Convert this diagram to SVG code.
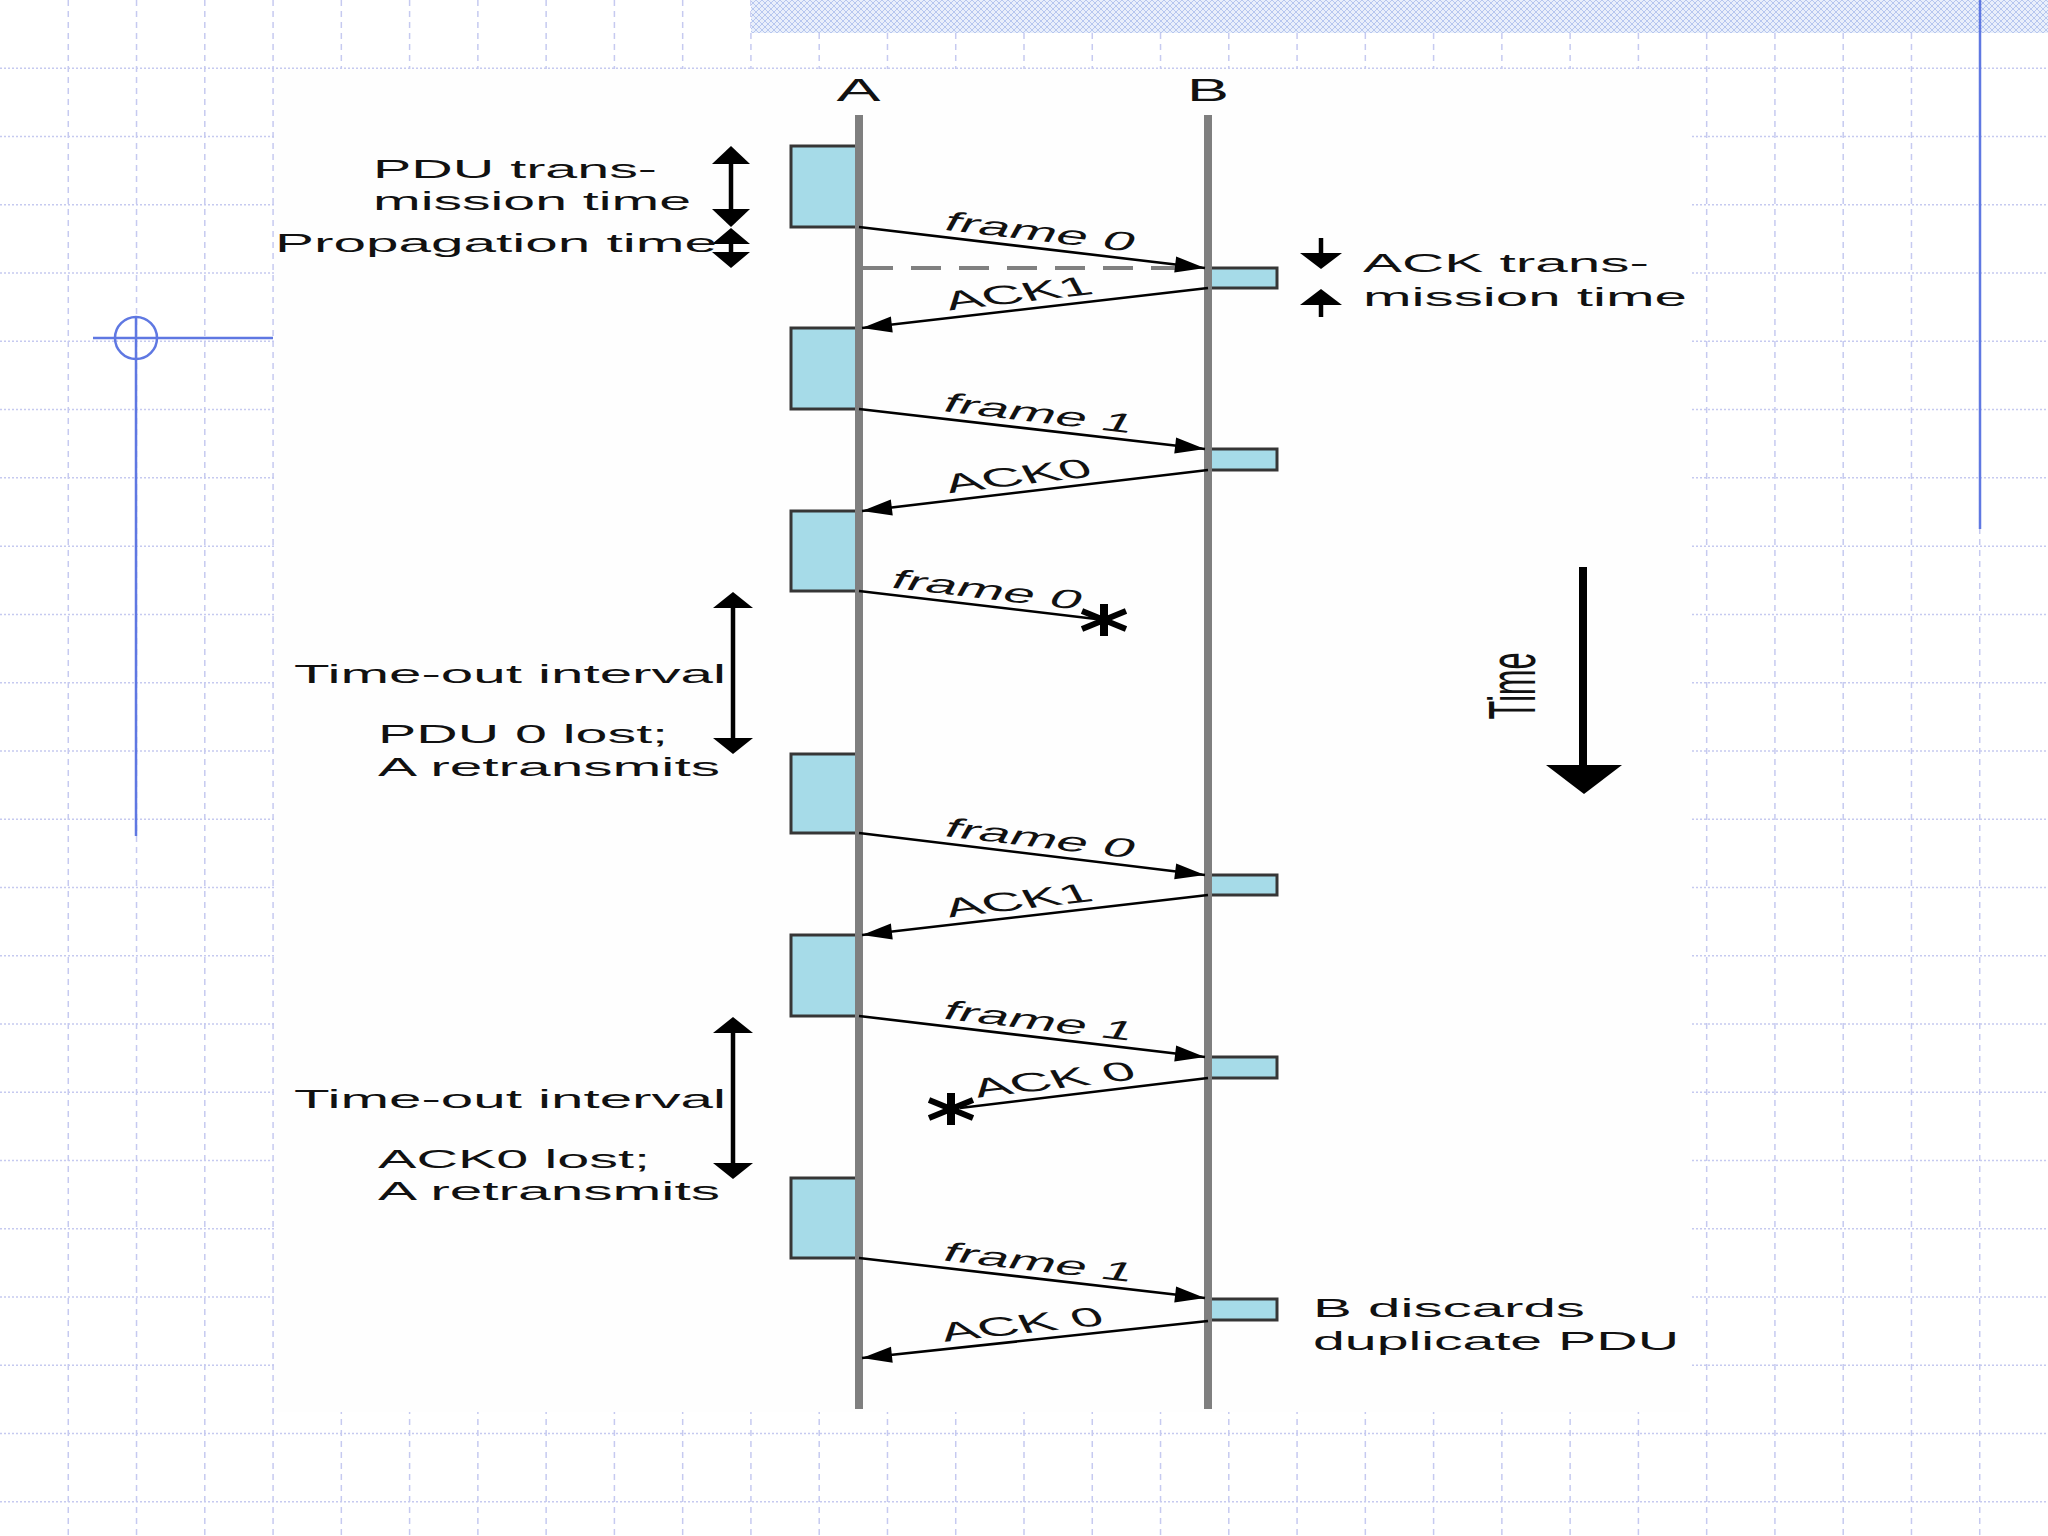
<svg xmlns="http://www.w3.org/2000/svg" width="2048" height="1536" viewBox="0 0 2048 1536">
<defs>
<style>
.gv{stroke:#c6caf0;stroke-width:1.5;stroke-dasharray:6 5;fill:none}
.gh{stroke:#c6caf0;stroke-width:1.5;stroke-dasharray:2 2;fill:none}
.orn{stroke:#5f78e2;stroke-width:2.5;fill:none}
.life{stroke:#7f7f7f;stroke-width:8}
.pdu{fill:#a6dbe8;stroke:#363636;stroke-width:3}
.ack{fill:#a6dbe8;stroke:#363636;stroke-width:3}
.msg{stroke:#000;stroke-width:2.6;fill:none}
.msga{stroke:#000;stroke-width:2.6;fill:none;marker-end:url(#ah)}
.dim{stroke:#000;stroke-width:4.5;fill:none}
.hd{fill:#000}
.t{font-family:"Liberation Sans",Arial,Helvetica,sans-serif;font-size:26.5px;fill:#111}
.tl{font-family:"Liberation Sans",Arial,Helvetica,sans-serif;font-size:31px;fill:#111}
.star{stroke:#000;fill:none}
</style>
<pattern id="mesh" x="0" y="0" width="6" height="6" patternUnits="userSpaceOnUse">
<rect width="6" height="6" fill="#e9effb"/>
<path d="M0,0 L6,6 M6,0 L0,6" stroke="#b7c7ef" stroke-width="1"/>
</pattern>
<marker id="ah" viewBox="-32 -10 34 20" refX="0" refY="0" markerWidth="34" markerHeight="20" markerUnits="userSpaceOnUse" orient="auto">
<path d="M0,0 L-30,-8 L-30,8 Z" fill="#000"/>
</marker>
</defs>

<g id="background">
<rect width="2048" height="1536" fill="#ffffff"/>
<path class="gv" d="M68.27,0V1536 M136.53,0V1536 M204.8,0V1536 M273.07,0V1536 M341.33,0V1536 M409.6,0V1536 M477.87,0V1536 M546.13,0V1536 M614.4,0V1536 M682.67,0V1536 M750.93,0V1536 M819.2,0V1536 M887.47,0V1536 M955.73,0V1536 M1024,0V1536 M1092.27,0V1536 M1160.53,0V1536 M1228.8,0V1536 M1297.07,0V1536 M1365.33,0V1536 M1433.6,0V1536 M1501.87,0V1536 M1570.13,0V1536 M1638.4,0V1536 M1706.67,0V1536 M1774.93,0V1536 M1843.2,0V1536 M1911.47,0V1536 M1979.73,0V1536"/>
<path class="gh" d="M0,68.27H2048 M0,136.53H2048 M0,204.8H2048 M0,273.07H2048 M0,341.33H2048 M0,409.6H2048 M0,477.87H2048 M0,546.13H2048 M0,614.4H2048 M0,682.67H2048 M0,750.93H2048 M0,819.2H2048 M0,887.47H2048 M0,955.73H2048 M0,1024H2048 M0,1092.27H2048 M0,1160.53H2048 M0,1228.8H2048 M0,1297.07H2048 M0,1365.33H2048 M0,1433.6H2048 M0,1501.87H2048"/>
<rect x="751" y="0" width="1297" height="33" fill="url(#mesh)"/>
<rect x="274" y="69" width="1416" height="1343" fill="#fefefe"/>
<line class="orn" x1="1980" y1="0" x2="1980" y2="529"/>
<line class="orn" x1="93" y1="338" x2="273" y2="338"/>
<circle class="orn" cx="136" cy="338" r="21"/>
<line class="orn" x1="136" y1="317" x2="136" y2="836"/>
</g>

<g id="pdus-A">
<rect id="pdu-a1" class="pdu" x="791" y="146" width="68" height="81"/>
<rect id="pdu-a2" class="pdu" x="791" y="328" width="68" height="81"/>
<rect id="pdu-a3" class="pdu" x="791" y="511" width="68" height="80"/>
<rect id="pdu-a4" class="pdu" x="791" y="754" width="68" height="79"/>
<rect id="pdu-a5" class="pdu" x="791" y="935" width="68" height="81"/>
<rect id="pdu-a6" class="pdu" x="791" y="1178" width="68" height="80"/>
</g>
<g id="acks-B">
<rect id="ack-b1" class="ack" x="1208" y="268" width="69" height="20"/>
<rect id="ack-b2" class="ack" x="1208" y="449" width="69" height="21"/>
<rect id="ack-b3" class="ack" x="1208" y="875" width="69" height="20"/>
<rect id="ack-b4" class="ack" x="1208" y="1057" width="69" height="21"/>
<rect id="ack-b5" class="ack" x="1208" y="1299" width="69" height="21"/>
</g>

<g id="lifeline-A">
<line class="life" x1="859" y1="115" x2="859" y2="1409"/>
<text class="tl" x="858.5" y="101" text-anchor="middle" textLength="44" lengthAdjust="spacingAndGlyphs">A</text>
</g>
<g id="lifeline-B">
<line class="life" x1="1208" y1="115" x2="1208" y2="1409"/>
<text class="tl" x="1208" y="101" text-anchor="middle" textLength="42" lengthAdjust="spacingAndGlyphs">B</text>
</g>

<g id="connectors">
<line x1="863" y1="268" x2="1192" y2="268" stroke="#808080" stroke-width="4" stroke-dasharray="30 18"/>
<line class="msga" x1="859" y1="227" x2="1205" y2="268"/>
<line class="msga" x1="1208" y1="288" x2="862" y2="328"/>
<line class="msga" x1="859" y1="409" x2="1205" y2="449"/>
<line class="msga" x1="1208" y1="470" x2="862" y2="511"/>
<line class="msg" x1="859" y1="591" x2="1096" y2="619"/>
<line class="msga" x1="859" y1="833" x2="1205" y2="875"/>
<line class="msga" x1="1208" y1="895" x2="862" y2="935"/>
<line class="msga" x1="859" y1="1016" x2="1205" y2="1057"/>
<line class="msg" x1="1208" y1="1078" x2="960" y2="1108"/>
<line class="msga" x1="859" y1="1258" x2="1205" y2="1298"/>
<line class="msga" x1="1208" y1="1321" x2="862" y2="1358"/>
</g>

<g id="message-labels" class="t">
<text transform="translate(1032,247.3) scale(2.17,1) rotate(14.3)" x="0" y="-7" text-anchor="middle">frame 0</text>
<text transform="translate(1026,308.9) scale(2.17,1) rotate(-14)" x="0" y="-7" text-anchor="middle">ACK1</text>
<text transform="translate(1031,428.7) scale(2.17,1) rotate(14.3)" x="0" y="-7" text-anchor="middle">frame 1</text>
<text transform="translate(1026,491.4) scale(2.17,1) rotate(-14.3)" x="0" y="-7" text-anchor="middle">ACK0</text>
<text transform="translate(979,605.2) scale(2.17,1) rotate(14.3)" x="0" y="-7" text-anchor="middle">frame 0</text>
<text transform="translate(1032,853.8) scale(2.17,1) rotate(14.5)" x="0" y="-7" text-anchor="middle">frame 0</text>
<text transform="translate(1026,915.9) scale(2.17,1) rotate(-14)" x="0" y="-7" text-anchor="middle">ACK1</text>
<text transform="translate(1031,1036.2) scale(2.17,1) rotate(14.3)" x="0" y="-7" text-anchor="middle">frame 1</text>
<text transform="translate(1062,1095.1) scale(2.17,1) rotate(-14.2)" x="0" y="-7" text-anchor="middle">ACK 0</text>
<text transform="translate(1031,1277.7) scale(2.17,1) rotate(14)" x="0" y="-7" text-anchor="middle">frame 1</text>
<text transform="translate(1029,1340) scale(2.17,1) rotate(-13)" x="0" y="-7" text-anchor="middle">ACK 0</text>
</g>

<g id="loss-1">
<line class="star" x1="1104" y1="604" x2="1104" y2="636" stroke-width="8"/>
<line class="star" x1="1082" y1="611" x2="1126" y2="629" stroke-width="6"/>
<line class="star" x1="1082" y1="629" x2="1126" y2="611" stroke-width="6"/>
</g>
<g id="loss-2">
<line class="star" x1="951" y1="1093" x2="951" y2="1125" stroke-width="8"/>
<line class="star" x1="929" y1="1100" x2="973" y2="1118" stroke-width="6"/>
<line class="star" x1="929" y1="1118" x2="973" y2="1100" stroke-width="6"/>
</g>

<g id="pdu-time-note">
<line class="dim" x1="731" y1="160" x2="731" y2="214"/>
<polygon class="hd" points="731,146 712,164 750,164"/>
<polygon class="hd" points="731,227 712,209 750,209"/>
<line class="dim" x1="731" y1="240" x2="731" y2="256"/>
<polygon class="hd" points="731,228 712,244 750,244"/>
<polygon class="hd" points="731,268 712,252 750,252"/>
<text class="t" x="373" y="178" textLength="284" lengthAdjust="spacingAndGlyphs">PDU trans-</text>
<text class="t" x="373" y="210" textLength="318" lengthAdjust="spacingAndGlyphs">mission time</text>
<text class="t" x="275" y="252" textLength="442" lengthAdjust="spacingAndGlyphs">Propagation time</text>
</g>

<g id="ack-time-note">
<line class="dim" x1="1321" y1="238" x2="1321" y2="256"/>
<polygon class="hd" points="1321,269 1300,253 1342,253"/>
<line class="dim" x1="1321" y1="302" x2="1321" y2="317"/>
<polygon class="hd" points="1321,289 1300,305 1342,305"/>
<text class="t" x="1363" y="272" textLength="286" lengthAdjust="spacingAndGlyphs">ACK trans-</text>
<text class="t" x="1363" y="306" textLength="324" lengthAdjust="spacingAndGlyphs">mission time</text>
</g>

<g id="timeout-1">
<line class="dim" x1="733" y1="604" x2="733" y2="742"/>
<polygon class="hd" points="733,592 713,608 753,608"/>
<polygon class="hd" points="733,754 713,738 753,738"/>
<text class="t" x="294" y="683" textLength="432" lengthAdjust="spacingAndGlyphs">Time-out interval</text>
<text class="t" x="378" y="743" textLength="290" lengthAdjust="spacingAndGlyphs">PDU 0 lost;</text>
<text class="t" x="378" y="776" textLength="342" lengthAdjust="spacingAndGlyphs">A retransmits</text>
</g>

<g id="timeout-2">
<line class="dim" x1="733" y1="1029" x2="733" y2="1167"/>
<polygon class="hd" points="733,1017 713,1033 753,1033"/>
<polygon class="hd" points="733,1179 713,1163 753,1163"/>
<text class="t" x="294" y="1108" textLength="432" lengthAdjust="spacingAndGlyphs">Time-out interval</text>
<text class="t" x="378" y="1168" textLength="272" lengthAdjust="spacingAndGlyphs">ACK0 lost;</text>
<text class="t" x="378" y="1200" textLength="342" lengthAdjust="spacingAndGlyphs">A retransmits</text>
</g>

<g id="discard-note">
<text class="t" x="1313" y="1317" textLength="272" lengthAdjust="spacingAndGlyphs">B discards</text>
<text class="t" x="1313" y="1350" textLength="366" lengthAdjust="spacingAndGlyphs">duplicate PDU</text>
</g>

<g id="time-axis">
<line x1="1583" y1="567" x2="1583" y2="772" stroke="#000" stroke-width="8"/>
<polygon class="hd" points="1546,765 1622,765 1584,794"/>
<text class="t" transform="translate(1535,686) scale(2.17,1) rotate(-90)" x="0" y="0" text-anchor="middle" style="font-size:30.6px">Time</text>
</g>
</svg>
